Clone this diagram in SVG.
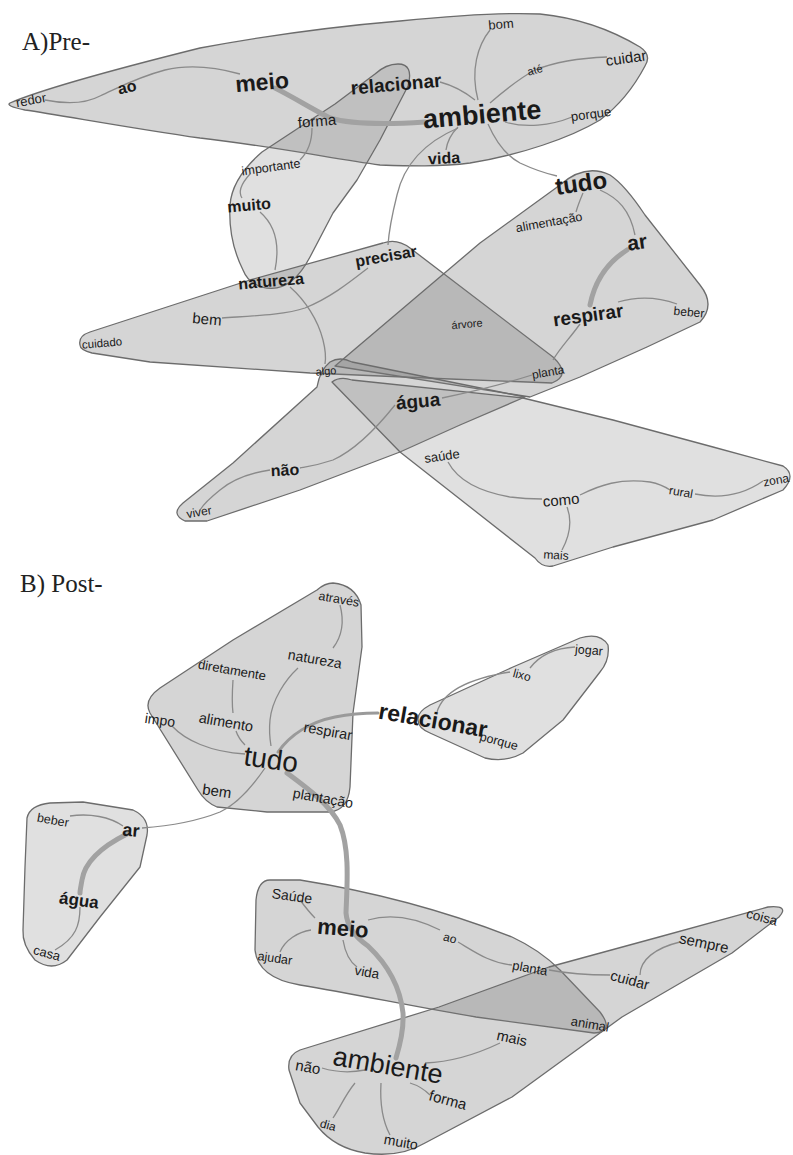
<svg xmlns="http://www.w3.org/2000/svg" width="793" height="1155" viewBox="0 0 793 1155">
<style>
.c{stroke:#6c6c6c;stroke-width:1.3;fill:#7c7c7c;fill-opacity:.32;stroke-linejoin:round}
.cl{fill-opacity:.24}
.e{fill:none;stroke:#8a8a8a;stroke-width:1.3}
.et{fill:none;stroke:#a2a2a2;stroke-width:5;stroke-linecap:round}
.em{fill:none;stroke:#9a9a9a;stroke-width:3;stroke-linecap:round}
.t{font-family:"Liberation Sans",Arial,sans-serif;fill:#1a1a1a;text-anchor:middle}
.b{font-weight:bold}
.ttl{font-family:"Liberation Serif","Times New Roman",serif;fill:#222;font-size:25px}
</style>
<rect width="793" height="1155" fill="#fff"/>
<text class="ttl" x="22" y="50">A)Pre-</text>
<text class="ttl" x="20" y="592">B) Post-</text>

<g id="communities">
<path id="hullA1" class="c" d="M10,103 C40,90 120,68 200,48 C270,35 340,26 400,21 C450,16 500,12 540,14 C580,18 615,32 640,47 Q652,55 645,66 C635,85 620,105 600,120 C570,138 520,155 470,163 C440,167 410,166 380,165 C330,158 270,146 200,138 C130,128 60,115 25,110 Q5,106 10,103 Z"/>
<path id="hullA2" class="c cl" d="M398,64 Q414,64 408,86 L380,140 L357,180 L333,213 L310,257 Q290,295 262,287 Q248,283 243,270 Q228,240 230,205 Q232,178 262,152 L335,104 L375,74 Q386,64 398,64 Z"/>
<path id="hullA3" class="c" d="M80,345 Q78,336 90,332 L250,280 L383,243 Q397,238 410,248 L553,357 Q572,375 552,383 L450,379 L310,373 L150,362 L92,353 Q80,350 80,345 Z"/>
<path id="hullA4" class="c" d="M335,366 L480,243 L560,185 Q585,163 610,175 Q625,185 645,215 L700,285 Q716,305 700,322 L647,347 L580,377 L530,397 Z"/>
<path id="hullA5" class="c" d="M185,521 Q170,514 183,503 L233,463 L317,387 Q320,370 330,362 Q340,356 352,362 L525,397 L460,425 L400,452 L300,490 L207,521 Z"/>
<path id="hullA6" class="c cl" d="M332,382 Q340,376 352,380 L523,398 L613,420 L713,447 L783,466 Q797,475 783,490 L713,520 L613,547 L553,566 Q542,568 535,558 L400,452 Z"/>
<path id="hullB1" class="c" d="M333,583 Q355,585 361,605 L362,647 L353,713 L350,787 Q348,810 330,812 L267,812 L217,807 Q205,802 198,790 L150,713 Q143,700 160,688 L233,640 L317,590 Q325,583 333,583 Z"/>
<path id="hullB2" class="c cl" d="M418,720 Q417,712 430,705 L513,667 L580,638 Q600,632 608,645 Q610,660 600,672 L563,720 L523,753 Q505,763 485,758 L430,733 Q418,728 418,720 Z"/>
<path id="hullB3" class="c cl" d="M27,818 Q30,805 50,803 L83,802 L133,810 Q150,818 147,835 L140,867 L100,917 L67,960 Q52,972 35,960 Q22,945 23,930 L25,867 Z"/>
<path id="hullB4" class="c" d="M270,880 L300,880 C350,888 430,905 512,937 Q540,950 560,970 L600,1012 Q615,1032 594,1033 L476,1017 C420,1008 360,995 300,985 Q258,978 255,950 L256,900 Q258,880 270,880 Z"/>
<path id="hullB5" class="c" d="M768,907 Q790,905 779,917 L732,953 L622,1017 L512,1097 L425,1143 Q400,1158 365,1153 Q335,1148 318,1127 L300,1103 L289,1070 Q287,1055 300,1050 L439,1007 L549,967 L659,937 Z"/>
</g>

<g id="connectors">
<path class="e" d="M45,100 C65,104 85,104 100,96 C118,88 135,78 165,70 C190,64 215,67 240,74"/>
<path class="et" d="M275,88 C295,98 310,108 330,118 C350,124 380,125 425,122"/>
<path class="e" d="M440,82 C455,86 465,92 475,100"/>
<path class="e" d="M490,30 C478,45 470,70 478,100"/>
<path class="e" d="M490,103 C505,90 520,78 535,70 C555,62 580,58 607,57"/>
<path class="e" d="M505,122 C525,128 550,126 572,117"/>
<path class="e" d="M458,127 C450,135 447,143 446,150"/>
<path class="e" d="M458,128 C430,140 405,160 397,195 C392,215 389,230 388,245"/>
<path class="e" d="M488,124 C495,140 505,155 520,163 C535,170 548,174 557,176"/>
<path class="e" d="M583,193 C580,200 578,205 576,212"/>
<path class="e" d="M600,190 C618,198 630,210 635,235"/>
<path class="et" d="M627,250 C608,262 595,280 590,305"/>
<path class="e" d="M618,302 C635,297 655,296 677,304"/>
<path class="e" d="M580,324 C570,338 560,348 553,360"/>
<path class="e" d="M312,128 C312,140 308,152 300,160"/>
<path class="e" d="M250,174 C240,185 238,192 242,198"/>
<path class="e" d="M260,212 C275,225 280,245 275,270"/>
<path class="e" d="M290,287 C305,300 318,320 323,340 C326,352 326,358 325,364"/>
<path class="e" d="M222,318 C250,316 285,315 305,308 C330,298 350,282 368,268"/>
<path class="e" d="M442,398 C480,390 510,382 532,375"/>
<path class="e" d="M395,405 C375,430 355,450 333,460 C315,466 305,467 300,468"/>
<path class="e" d="M270,470 C250,473 232,480 220,490 C210,498 203,505 200,510"/>
<path class="e" d="M448,462 C455,475 470,490 510,497 C525,499 535,499 542,499"/>
<path class="e" d="M580,495 C600,485 620,478 650,482 C660,484 667,488 670,490"/>
<path class="e" d="M695,494 C715,498 740,497 763,481"/>
<path class="e" d="M567,507 C572,520 570,535 562,550"/>

<path class="e" d="M340,605 C344,620 343,635 333,648"/>
<path class="e" d="M298,668 C285,680 272,700 270,720 C269,730 270,740 271,746"/>
<path class="e" d="M233,680 C232,695 232,705 233,713 M236,731 C238,737 241,741 245,745"/>
<path class="e" d="M172,726 C185,740 210,752 245,754"/>
<path class="em" d="M278,752 C290,735 310,722 335,717 C350,714 365,713 378,713"/>
<path class="e" d="M437,712 C442,695 460,680 510,672 M530,668 C540,655 555,648 575,647"/>
<path class="e" d="M265,768 C250,790 235,805 220,812 C200,820 170,826 142,828"/>
<path class="e" d="M70,816 C90,813 110,817 123,826"/>
<path class="et" d="M127,834 C105,845 85,860 82,880 C81,886 80,890 80,893"/>
<path class="e" d="M80,907 C80,925 76,938 55,950"/>
<path class="et" d="M287,773 C310,790 330,805 340,825 C350,850 347,885 346,913 C347,925 355,937 368,946 C385,962 400,985 403,1013 C404,1030 400,1045 396,1058"/>
<path class="e" d="M300,900 C306,908 310,913 315,918"/>
<path class="e" d="M311,930 C298,932 285,940 280,952"/>
<path class="e" d="M368,920 C385,915 410,915 440,930 M458,942 C475,952 490,963 512,965"/>
<path class="e" d="M343,940 C345,952 350,962 357,967"/>
<path class="e" d="M549,970 C575,975 595,975 610,975"/>
<path class="e" d="M640,975 C640,960 655,948 680,942"/>
<path class="e" d="M322,1068 C335,1072 350,1073 365,1070"/>
<path class="e" d="M425,1063 C450,1062 475,1055 500,1043"/>
<path class="e" d="M410,1083 C420,1086 425,1090 430,1095"/>
<path class="e" d="M355,1083 C345,1095 340,1108 333,1118"/>
<path class="e" d="M381,1083 C380,1100 382,1120 390,1135"/>
</g>

<g id="a-redor" transform="translate(31,100) rotate(-10)"><text class="t" font-size="13" dy=".35em">redor</text></g>
<g id="a-ao" transform="translate(127,87) rotate(-12)"><text class="t b" font-size="16" dy=".35em">ao</text></g>
<g id="a-meio" transform="translate(262,82) rotate(-5)"><text class="t b" font-size="23" dy=".35em">meio</text></g>
<g id="a-relacionar" transform="translate(396,84) rotate(-5)"><text class="t b" font-size="19" dy=".35em">relacionar</text></g>
<g id="a-forma" transform="translate(317,121) rotate(-5)"><text class="t" font-size="15" dy=".35em">forma</text></g>
<g id="a-ambiente" transform="translate(482,114) rotate(-5)"><text class="t b" font-size="27" dy=".35em">ambiente</text></g>
<g id="a-bom" transform="translate(501,24) rotate(-5)"><text class="t" font-size="13" dy=".35em">bom</text></g>
<g id="a-ate" transform="translate(535,70) rotate(-15)"><text class="t" font-size="11" dy=".35em">até</text></g>
<g id="a-cuidar" transform="translate(626,58) rotate(-8)"><text class="t" font-size="15" dy=".35em">cuidar</text></g>
<g id="a-porque" transform="translate(591,114) rotate(-8)"><text class="t" font-size="13" dy=".35em">porque</text></g>
<g id="a-vida" transform="translate(444,158) rotate(-3)"><text class="t b" font-size="16" dy=".35em">vida</text></g>
<g id="a-importante" transform="translate(271,167) rotate(-8)"><text class="t" font-size="12.5" dy=".35em">importante</text></g>
<g id="a-muito" transform="translate(249,205) rotate(-5)"><text class="t b" font-size="16" dy=".35em">muito</text></g>
<g id="a-tudo" transform="translate(581,183) rotate(-8)"><text class="t b" font-size="24" dy=".35em">tudo</text></g>
<g id="a-natureza" transform="translate(271,281) rotate(-5)"><text class="t b" font-size="16" dy=".35em">natureza</text></g>
<g id="a-precisar" transform="translate(386,256) rotate(-10)"><text class="t b" font-size="16" dy=".35em">precisar</text></g>
<g id="a-bem" transform="translate(207,319) rotate(5)"><text class="t" font-size="15" dy=".35em">bem</text></g>
<g id="a-cuidado" transform="translate(102,343) rotate(-5)"><text class="t" font-size="11.5" dy=".35em">cuidado</text></g>
<g id="a-algo" transform="translate(326,371) rotate(-5)"><text class="t" font-size="11" dy=".35em">algo</text></g>
<g id="a-alimentacao" transform="translate(549,222) rotate(-10)"><text class="t" font-size="12.5" dy=".35em">alimentação</text></g>
<g id="a-ar" transform="translate(637,242) rotate(-8)"><text class="t b" font-size="21" dy=".35em">ar</text></g>
<g id="a-respirar" transform="translate(588,315) rotate(-8)"><text class="t b" font-size="19" dy=".35em">respirar</text></g>
<g id="a-beber" transform="translate(689,312) rotate(5)"><text class="t" font-size="12" dy=".35em">beber</text></g>
<g id="a-arvore" transform="translate(467,324) rotate(-5)"><text class="t" font-size="11" dy=".35em">árvore</text></g>
<g id="a-planta" transform="translate(548,372) rotate(-10)"><text class="t" font-size="12" dy=".35em">planta</text></g>
<g id="a-agua" transform="translate(418,401) rotate(-5)"><text class="t b" font-size="19" dy=".35em">água</text></g>
<g id="a-nao" transform="translate(285,470) rotate(-3)"><text class="t b" font-size="16" dy=".35em">não</text></g>
<g id="a-viver" transform="translate(199,512) rotate(-10)"><text class="t" font-size="12" dy=".35em">viver</text></g>
<g id="a-saude" transform="translate(442,456) rotate(-8)"><text class="t" font-size="13" dy=".35em">saúde</text></g>
<g id="a-como" transform="translate(561,500) rotate(-5)"><text class="t" font-size="15" dy=".35em">como</text></g>
<g id="a-rural" transform="translate(681,492) rotate(10)"><text class="t" font-size="12" dy=".35em">rural</text></g>
<g id="a-zona" transform="translate(776,480) rotate(-10)"><text class="t" font-size="12" dy=".35em">zona</text></g>
<g id="a-mais" transform="translate(556,555) rotate(3)"><text class="t" font-size="12" dy=".35em">mais</text></g>

<g id="b-atraves" transform="translate(339,599) rotate(10)"><text class="t" font-size="12.5" dy=".35em">através</text></g>
<g id="b-natureza" transform="translate(315,659) rotate(10)"><text class="t" font-size="14" dy=".35em">natureza</text></g>
<g id="b-diretamente" transform="translate(232,670) rotate(10)"><text class="t" font-size="13" dy=".35em">diretamente</text></g>
<g id="b-impo" transform="translate(160,720) rotate(8)"><text class="t" font-size="14" dy=".35em">impo</text></g>
<g id="b-alimento" transform="translate(226,722) rotate(10)"><text class="t" font-size="14.5" dy=".35em">alimento</text></g>
<g id="b-respirar" transform="translate(328,731) rotate(10)"><text class="t" font-size="14.5" dy=".35em">respirar</text></g>
<g id="b-tudo" transform="translate(271,759) rotate(8)"><text class="t" font-size="28" dy=".35em">tudo</text></g>
<g id="b-bem" transform="translate(217,791) rotate(8)"><text class="t" font-size="15" dy=".35em">bem</text></g>
<g id="b-plantacao" transform="translate(323,798) rotate(10)"><text class="t" font-size="14" dy=".35em">plantação</text></g>
<g id="b-relacionar" transform="translate(433,720) rotate(10)"><text class="t b" font-size="23" dy=".35em">relacionar</text></g>
<g id="b-jogar" transform="translate(589,650) rotate(5)"><text class="t" font-size="12.5" dy=".35em">jogar</text></g>
<g id="b-lixo" transform="translate(522,675) rotate(15)"><text class="t" font-size="12" dy=".35em">lixo</text></g>
<g id="b-porque" transform="translate(499,741) rotate(15)"><text class="t" font-size="12.5" dy=".35em">porque</text></g>
<g id="b-beber" transform="translate(53,820) rotate(10)"><text class="t" font-size="12.5" dy=".35em">beber</text></g>
<g id="b-ar" transform="translate(131,830) rotate(5)"><text class="t b" font-size="18" dy=".35em">ar</text></g>
<g id="b-agua" transform="translate(79,900) rotate(8)"><text class="t b" font-size="17" dy=".35em">água</text></g>
<g id="b-casa" transform="translate(47,953) rotate(15)"><text class="t" font-size="13" dy=".35em">casa</text></g>
<g id="b-saude" transform="translate(292,896) rotate(8)"><text class="t" font-size="14" dy=".35em">Saúde</text></g>
<g id="b-meio" transform="translate(343,928) rotate(5)"><text class="t b" font-size="22" dy=".35em">meio</text></g>
<g id="b-ajudar" transform="translate(275,958) rotate(8)"><text class="t" font-size="12.5" dy=".35em">ajudar</text></g>
<g id="b-vida" transform="translate(367,972) rotate(10)"><text class="t" font-size="13.5" dy=".35em">vida</text></g>
<g id="b-ao" transform="translate(450,938) rotate(15)"><text class="t" font-size="12" dy=".35em">ao</text></g>
<g id="b-planta" transform="translate(530,968) rotate(10)"><text class="t" font-size="13" dy=".35em">planta</text></g>
<g id="b-animal" transform="translate(590,1024) rotate(10)"><text class="t" font-size="13" dy=".35em">animal</text></g>
<g id="b-coisa" transform="translate(762,917) rotate(15)"><text class="t" font-size="13.5" dy=".35em">coisa</text></g>
<g id="b-sempre" transform="translate(704,943) rotate(12)"><text class="t" font-size="15" dy=".35em">sempre</text></g>
<g id="b-cuidar" transform="translate(630,980) rotate(15)"><text class="t" font-size="14.5" dy=".35em">cuidar</text></g>
<g id="b-mais" transform="translate(512,1038) rotate(12)"><text class="t" font-size="14.5" dy=".35em">mais</text></g>
<g id="b-nao" transform="translate(308,1067) rotate(10)"><text class="t" font-size="15" dy=".35em">não</text></g>
<g id="b-ambiente" transform="translate(388,1065) rotate(10)"><text class="t" font-size="27" dy=".35em">ambiente</text></g>
<g id="b-forma" transform="translate(448,1100) rotate(15)"><text class="t" font-size="15" dy=".35em">forma</text></g>
<g id="b-dia" transform="translate(328,1125) rotate(15)"><text class="t" font-size="12" dy=".35em">dia</text></g>
<g id="b-muito" transform="translate(401,1142) rotate(10)"><text class="t" font-size="14" dy=".35em">muito</text></g>
</svg>
